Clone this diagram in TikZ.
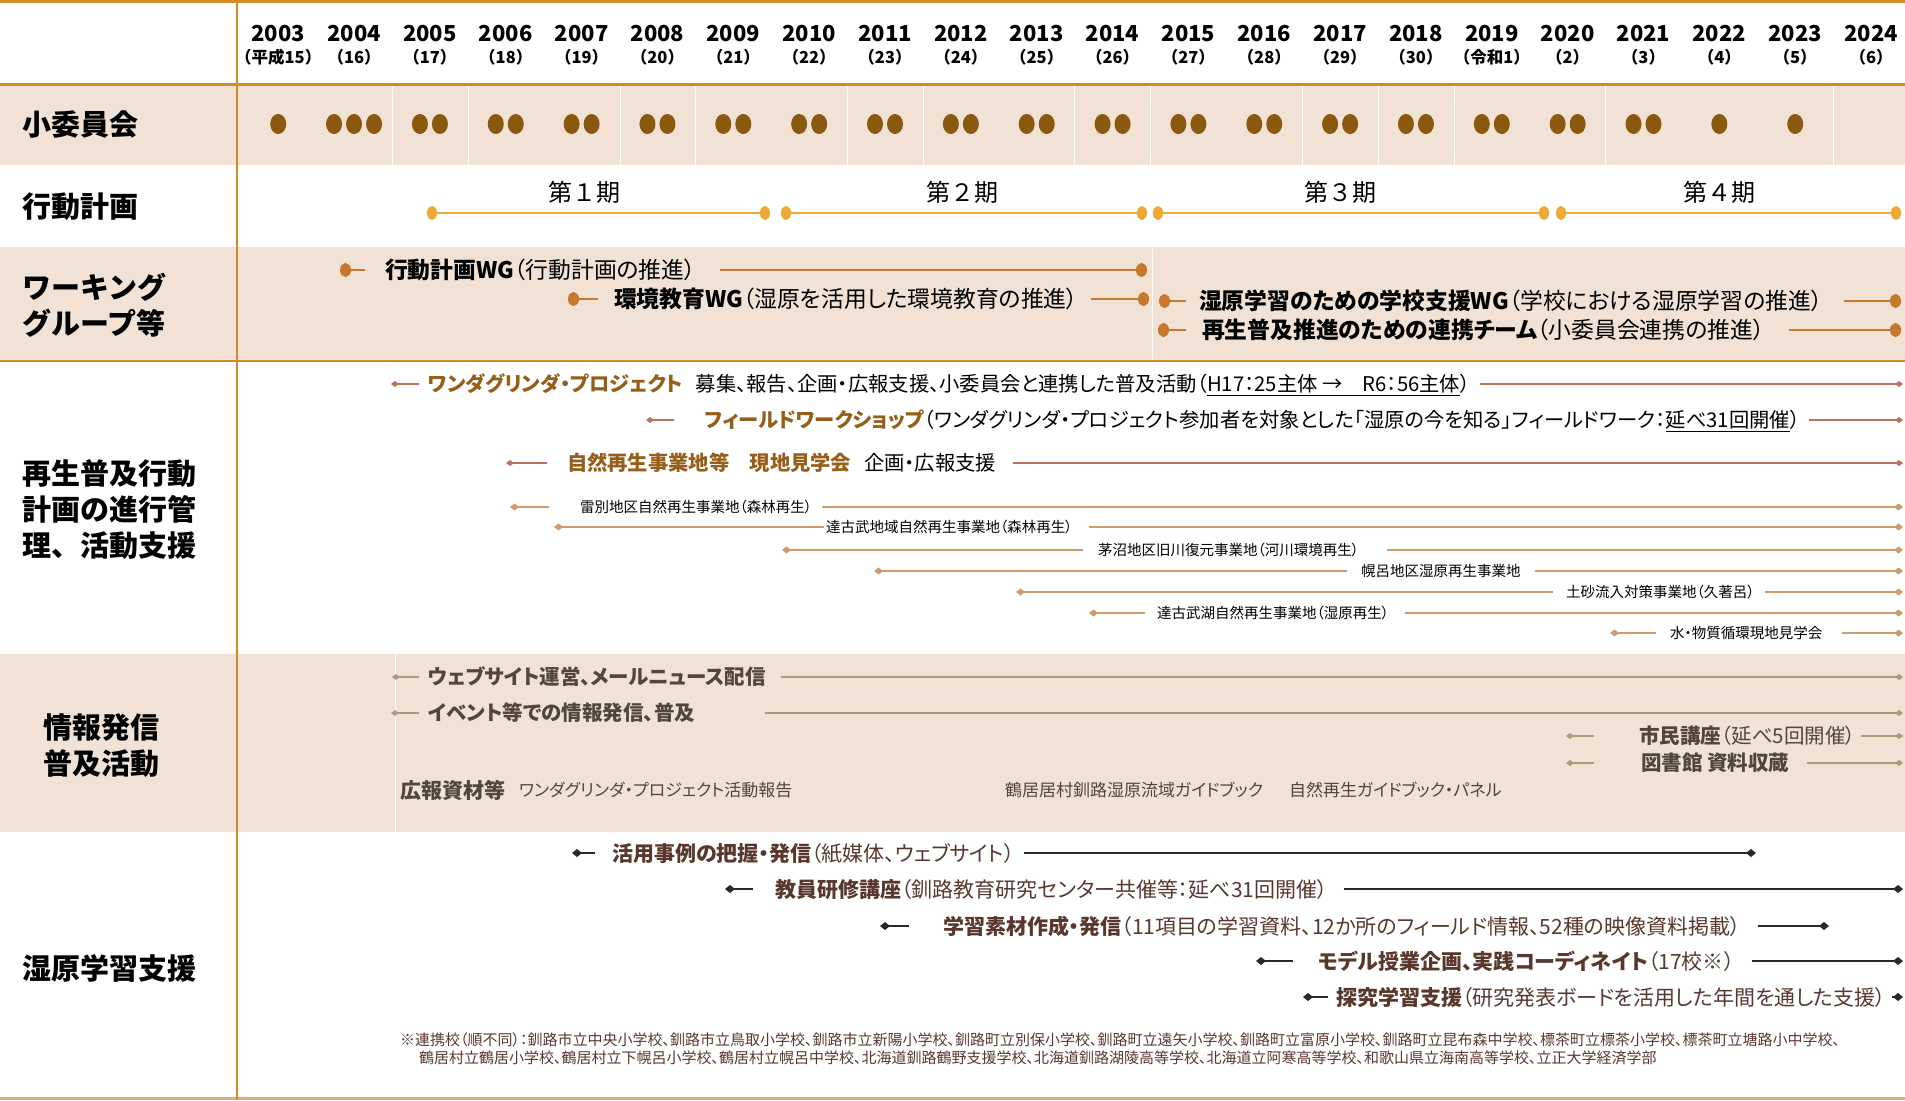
\documentclass[tikz,border=0pt]{standalone}
\usepackage{fontspec}
\setmainfont{Noto Sans CJK JP}
\newfontfamily\pf{Noto Sans CJK JP}[RawFeature={+palt}]
\usetikzlibrary{arrows.meta}
\definecolor{beige}{RGB}{242,226,213}
\definecolor{orng}{RGB}{212,138,42}
\definecolor{dotc}{RGB}{139,88,16}
\definecolor{perc}{RGB}{240,168,52}
\definecolor{wgc}{RGB}{200,120,45}
\definecolor{wdc}{RGB}{185,115,95}
\definecolor{wdt}{RGB}{150,95,25}
\definecolor{sbc}{RGB}{205,155,110}
\definecolor{infc}{RGB}{170,155,125}
\definecolor{inft}{RGB}{80,70,60}
\definecolor{stc}{RGB}{45,40,40}
\definecolor{stt}{RGB}{90,55,45}
\definecolor{botc}{RGB}{222,172,125}
\newcommand\tlitem[9]{%
  \coordinate (#1s) at (#3,#2);
  \coordinate (#1e) at (#7,#2);
  \node[#8T, anchor=west] (#1t) at (#5,#2) {#9};
  \draw[#8L] (#1s) -- ([xshift=-#4pt]#1t.west);
  \draw[#8R] ([xshift=#6pt]#1t.east) -- (#1e);
}
\newcommand\wdB[1]{{\color{wdt}\bfseries #1}}
\begin{document}
\begin{tikzpicture}[x=1pt,y=-1pt,
  every node/.style={inner sep=0pt, outer sep=0pt},
  yrs/.style={font=\bfseries\fontsize{22}{22}\selectfont, text height=19.4pt, text depth=2.6pt},
  eras/.style={font=\bfseries\fontsize{16.5}{16.5}\selectfont, text height=14.5pt, text depth=2pt},
  rowlab/.style={font=\bfseries\fontsize{29}{36}\selectfont, anchor=west, align=left},
  perlab/.style={font=\fontsize{24}{24}\selectfont, text height=21.1pt, text depth=2.9pt},
  perline/.style={draw=perc, line width=2.5pt, arrows={Ellipse[length=10pt,width=14pt]-Ellipse[length=10pt,width=14pt]}},
  wgT/.style={font=\pf\fontsize{22.8}{26}\selectfont, text height=20.1pt, text depth=2.7pt},
  wgline/.style={draw=wgc, line width=2.2pt},
  wgL/.style={wgline, arrows={Ellipse[length=11pt,width=14pt]-}},
  wgR/.style={wgline, arrows={-Ellipse[length=11pt,width=14pt]}},
  wdT/.style={font=\pf\fontsize{20.3}{24}\selectfont, text height=17.9pt, text depth=2.4pt},
  wdL/.style={draw=wdc, line width=2pt, arrows={Diamond[length=8pt,width=6pt]-}},
  wdR/.style={draw=wdc, line width=2pt, arrows={-Diamond[length=8pt,width=6pt]}},
  sbT/.style={font=\pf\fontsize{14.5}{17}\selectfont, text height=12.8pt, text depth=1.7pt},
  sbL/.style={draw=sbc, line width=2.4pt, arrows={Diamond[length=9pt,width=7pt]-}},
  sbR/.style={draw=sbc, line width=2.4pt, arrows={-Diamond[length=9pt,width=7pt]}},
  inT/.style={font=\pf\bfseries\fontsize{20.5}{24}\selectfont, text=inft, text height=18pt, text depth=2.5pt},
  inL/.style={draw=infc, line width=2pt, arrows={Diamond[length=8pt,width=6pt]-}},
  inR/.style={draw=infc, line width=2pt, arrows={-Diamond[length=8pt,width=6pt]}},
  stT/.style={font=\pf\fontsize{21}{24}\selectfont, text=stt, text height=18.5pt, text depth=2.5pt},
  stL/.style={draw=stc, line width=2.5pt, arrows={Diamond[length=10pt,width=8pt]-}},
  stR/.style={draw=stc, line width=2.5pt, arrows={-Diamond[length=10pt,width=8pt]}},
  mat/.style={font=\pf\fontsize{17}{20}\selectfont, text=inft, text height=15pt, text depth=2pt, anchor=west},
  matb/.style={font=\pf\bfseries\fontsize{21}{24}\selectfont, text=inft, text height=18.5pt, text depth=2.5pt, anchor=west},
  fn/.style={font=\pf\fontsize{15}{18}\selectfont, text=stt, text height=13.2pt, text depth=1.8pt, anchor=west},
  faint/.style={draw=white, line width=1pt}
]
\useasboundingbox (0,0) rectangle (1905,1100);
% backgrounds
\fill[beige] (0,84) rectangle (1905,165);
\fill[beige] (0,247) rectangle (1905,361);
\fill[beige] (0,654) rectangle (1905,832);
\foreach \x in {392,468,620,695,847,923,1074,1150,1302,1378,1454,1605,1833}
  \draw[faint] (\x,85) -- (\x,165);
\draw[faint] (1152,248) -- (1152,360);
\draw[faint] (395,654) -- (395,832);
% frame lines
\draw[orng, line width=2.5pt] (0,1.5) -- (1905,1.5);
\draw[orng, line width=3pt] (0,84) -- (1905,84);
\draw[orng, line width=2pt] (0,361) -- (1905,361);
\draw[botc, line width=3pt] (0,1098.5) -- (1905,1098.5);
\draw[orng, line width=2.5pt] (237,0) -- (237,1100);
% header
\foreach \e [count=\i from 0] in {平成15,16,17,18,19,20,21,22,23,24,25,26,27,28,29,30,令和1,2,3,4,5,6} {
  \pgfmathsetmacro\xx{278.2+75.85*\i}
  \pgfmathtruncatemacro\yy{2003+\i}
  \node[yrs] (yr\i) at (\xx,33) {\yy};
  \node[eras] (era\i) at (\xx,57) {（\e）};
}
% committee dots
\fill[dotc] (278.2,124) ellipse [x radius=8pt, y radius=10pt];
\foreach \d in {-20,0,20} \fill[dotc] ({354.05+\d},124) ellipse [x radius=8pt, y radius=10pt];
\foreach \i in {2,...,18} {
  \fill[dotc] ({278.2+75.85*\i-10},124) ellipse [x radius=8pt, y radius=10pt];
  \fill[dotc] ({278.2+75.85*\i+10},124) ellipse [x radius=8pt, y radius=10pt];
}
\fill[dotc] ({278.2+75.85*19},124) ellipse [x radius=8pt, y radius=10pt];
\fill[dotc] ({278.2+75.85*20},124) ellipse [x radius=8pt, y radius=10pt];
% row labels
\node[rowlab] (l1) at (22,125) {小委員会};
\node[rowlab] (l2) at (22,207) {行動計画};
\node[rowlab] (l3) at (22,305) {ワーキング\\グループ等};
\node[rowlab] (l4) at (22,510) {再生普及行動\\計画の進行管\\理、活動支援};
\node[rowlab] (l5) at (43,746) {情報発信\\普及活動};
\node[rowlab] (l6) at (22,968) {湿原学習支援};
% action plan periods
\coordinate (p1s) at (427,213); \coordinate (p1e) at (770,213);
\coordinate (p2s) at (781,213); \coordinate (p2e) at (1147,213);
\coordinate (p3s) at (1153,213); \coordinate (p3e) at (1549,213);
\coordinate (p4s) at (1556,213); \coordinate (p4e) at (1901,213);
\draw[perline] (p1s) -- (p1e);
\draw[perline] (p2s) -- (p2e);
\draw[perline] (p3s) -- (p3e);
\draw[perline] (p4s) -- (p4e);
\node[perlab] (pl1) at (584,192) {第１期};
\node[perlab] (pl2) at (962,192) {第２期};
\node[perlab] (pl3) at (1340,192) {第３期};
\node[perlab] (pl4) at (1719,192) {第４期};
% working groups
\tlitem{w1}{270}{340}{20}{385}{24}{1147}{wg}{{\bfseries 行動計画WG}（行動計画の推進）}
\tlitem{w2}{299}{568}{16}{614}{13}{1149}{wg}{{\bfseries 環境教育WG}（湿原を活用した環境教育の推進）}
\tlitem{w3}{301}{1159}{13}{1199}{21}{1901}{wg}{{\bfseries 湿原学習のための学校支援WG}（学校における湿原学習の推進）}
\tlitem{w4}{330}{1158}{16}{1202}{24}{1901}{wg}{{\bfseries 再生普及推進のための連携チーム}（小委員会連携の推進）}
% regeneration
\tlitem{r1}{384}{391}{9}{428}{10}{1903}{wd}{\wdB{ワンダグリンダ・プロジェクト}\hspace{13pt}募集、報告、企画・広報支援、小委員会と連携した普及活動（\underline{H17：25主体 →　R6：56主体}）}
\tlitem{r2}{420}{646}{31}{705}{9}{1903}{wd}{\wdB{フィールドワークショップ}（ワンダグリンダ・プロジェクト参加者を対象とした「湿原の今を知る」フィールドワーク：\underline{延べ31回開催}）}
\tlitem{r3}{463}{506}{20}{567}{17}{1903}{wd}{\wdB{自然再生事業地等　現地見学会}\hspace{13pt}企画・広報支援}
\tlitem{s1}{507}{510}{31}{580}{10}{1903}{sb}{雷別地区自然再生事業地（森林再生）}
\tlitem{s2}{527}{554}{2}{826}{16}{1903}{sb}{達古武地域自然再生事業地（森林再生）}
\tlitem{s3}{550}{782}{15}{1098}{28}{1903}{sb}{茅沼地区旧川復元事業地（河川環境再生）}
\tlitem{s4}{571}{874}{14}{1361}{14}{1903}{sb}{幌呂地区湿原再生事業地}
\tlitem{s5}{592}{1016}{13}{1566}{10}{1903}{sb}{土砂流入対策事業地（久著呂）}
\tlitem{s6}{613}{1089}{12}{1157}{16}{1903}{sb}{達古武湖自然再生事業地（湿原再生）}
\tlitem{s7}{633}{1610}{14}{1670}{20}{1903}{sb}{水・物質循環現地見学会}
% information
\tlitem{i1}{677}{392}{9}{428}{15}{1903}{in}{ウェブサイト運営、メールニュース配信}
\tlitem{i2}{713}{391}{9}{428}{70}{1903}{in}{イベント等での情報発信、普及}
\tlitem{i3}{736}{1566}{45}{1639}{5}{1903}{in}{市民講座{\mdseries （延べ5回開催）}}
\tlitem{i4}{763}{1566}{47}{1641}{18}{1903}{in}{図書館 資料収蔵}
\node[matb] (m0) at (400,790) {広報資材等};
\node[mat] (m1) at (519,790) {ワンダグリンダ・プロジェクト活動報告};
\node[mat] (m2) at (1005,790) {鶴居居村釧路湿原流域ガイドブック};
\node[mat] (m3) at (1289,790) {自然再生ガイドブック・パネル};
% wetland study
\tlitem{t1}{853}{572}{17}{612}{9}{1756}{st}{{\bfseries 活用事例の把握・発信}（紙媒体、ウェブサイト）}
\tlitem{t2}{889}{725}{22}{775}{16}{1903}{st}{{\bfseries 教員研修講座}（釧路教育研究センター共催等：延べ31回開催）}
\tlitem{t3}{926}{880}{34}{943}{17}{1829}{st}{{\bfseries 学習素材作成・発信}（11項目の学習資料、12か所のフィールド情報、52種の映像資料掲載）}
\tlitem{t4}{961}{1256}{25}{1318}{18}{1903}{st}{{\bfseries モデル授業企画、実践コーディネイト}（17校※）}
\tlitem{t5}{997}{1303}{8}{1336}{6}{1903}{st}{{\bfseries 探究学習支援}（研究発表ボードを活用した年間を通した支援）}
\node[fn] (fn1) at (400,1040) {※連携校（順不同）：釧路市立中央小学校、釧路市立鳥取小学校、釧路市立新陽小学校、釧路町立別保小学校、釧路町立遠矢小学校、釧路町立富原小学校、釧路町立昆布森中学校、標茶町立標茶小学校、標茶町立塘路小中学校、};
\node[fn] (fn2) at (419,1058) {鶴居村立鶴居小学校、鶴居村立下幌呂小学校、鶴居村立幌呂中学校、北海道釧路鶴野支援学校、北海道釧路湖陵高等学校、北海道立阿寒高等学校、和歌山県立海南高等学校、立正大学経済学部};
\end{tikzpicture}
\end{document}
